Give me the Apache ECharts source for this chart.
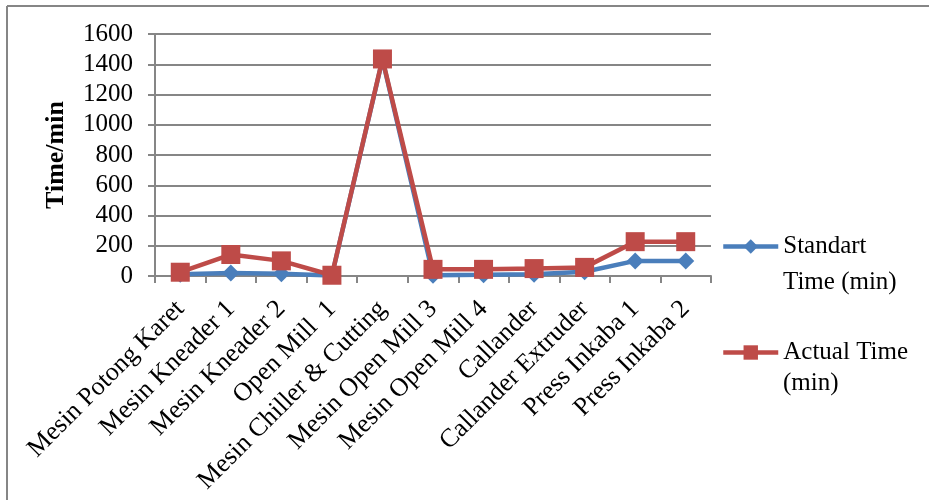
<!DOCTYPE html>
<html>
<head>
<meta charset="utf-8">
<script src="https://cdn.jsdelivr.net/npm/echarts@6/dist/echarts.min.js"></script>
<style>
html,body{margin:0;padding:0;background:#fff;}
#chart{width:929px;height:500px;}
</style>
</head>
<body>
<div id="chart"></div>
<script>
const categories = ['Mesin Potong Karet','Mesin Kneader 1','Mesin Kneader 2','Open Mill  1','Mesin Chiller & Cutting','Mesin Open Mill 3','Mesin Open Mill 4','Callander','Callander Extruder','Press Inkaba 1','Press Inkaba 2'];
const standartTime = [12, 20, 15, 4, 1432, 5, 8, 12, 28, 100, 100];
const actualTime = [25, 142, 100, 5, 1435, 44, 44, 49, 57, 227, 227];
const yTicks = [0, 200, 400, 600, 800, 1000, 1200, 1400, 1600];
const seriesNames = ['Standart Time (min)', 'Actual Time (min)'];
const legendFirstLines = ['Standart', 'Actual Time'];
const legendSecondLines = ['Time (min)', '(min)'];
const yAxisTitle = 'Time/min';

const FONT = '"Liberation Serif", "Times New Roman", serif';
const GRAY = '#868686';
const chart = echarts.init(document.getElementById('chart'), null, {renderer: 'canvas'});

chart.setOption({
  animation: false,
  backgroundColor: '#ffffff',
  grid: {left: 155, right: 218, top: 34, bottom: 224, containLabel: false},
  legend: {
    orient: 'vertical',
    left: 716,
    top: 229,
    itemWidth: 55,
    itemHeight: 18,
    itemGap: 81,
    data: seriesNames,
    lineStyle: {width: 4.5},
    formatter: function (name) { return legendFirstLines[seriesNames.indexOf(name)]; },
    textStyle: {fontFamily: FONT, fontSize: 25, color: '#000'}
  },
  graphic: [
    {type: 'line', shape: {x1: 7, y1: 6, x2: 929, y2: 6}, style: {stroke: GRAY, lineWidth: 2}},
    {type: 'line', shape: {x1: 7, y1: 6, x2: 7, y2: 500}, style: {stroke: GRAY, lineWidth: 2}},
    {type: 'text', left: 783, top: 270, style: {text: legendSecondLines[0], font: '25px ' + FONT, fill: '#000'}},
    {type: 'text', left: 783, top: 371, style: {text: legendSecondLines[1], font: '25px ' + FONT, fill: '#000'}}
  ],
  xAxis: {
    type: 'category',
    data: categories,
    boundaryGap: true,
    axisLine: {lineStyle: {color: GRAY, width: 2}},
    axisTick: {show: true, interval: 0, length: 7, lineStyle: {color: GRAY, width: 2}},
    axisLabel: {interval: 0, rotate: 45, margin: 29, fontFamily: FONT, fontSize: 26, color: '#000'},
    splitLine: {show: false}
  },
  yAxis: {
    type: 'value',
    min: yTicks[0],
    max: yTicks[yTicks.length - 1],
    interval: yTicks[1] - yTicks[0],
    name: yAxisTitle,
    nameLocation: 'middle',
    nameGap: 86,
    nameTextStyle: {fontFamily: FONT, fontSize: 26, fontWeight: 'bold', color: '#000'},
    axisLine: {show: true, lineStyle: {color: GRAY, width: 2}},
    axisTick: {show: true, length: 7, lineStyle: {color: GRAY, width: 2}},
    axisLabel: {margin: 22, fontFamily: FONT, fontSize: 25, color: '#000', formatter: function (v) { return String(v); }},
    splitLine: {show: true, lineStyle: {color: GRAY, width: 2}}
  },
  series: [
    {
      name: seriesNames[0],
      type: 'line',
      data: standartTime,
      symbol: 'diamond',
      symbolSize: 17,
      lineStyle: {color: '#4a7ebb', width: 4.5},
      itemStyle: {color: '#4a7ebb'},
      z: 2
    },
    {
      name: seriesNames[1],
      type: 'line',
      data: actualTime,
      symbol: 'rect',
      symbolSize: 19,
      lineStyle: {color: '#be4b48', width: 4.5},
      itemStyle: {color: '#be4b48'},
      z: 3
    }
  ]
});
</script>
</body>
</html>
